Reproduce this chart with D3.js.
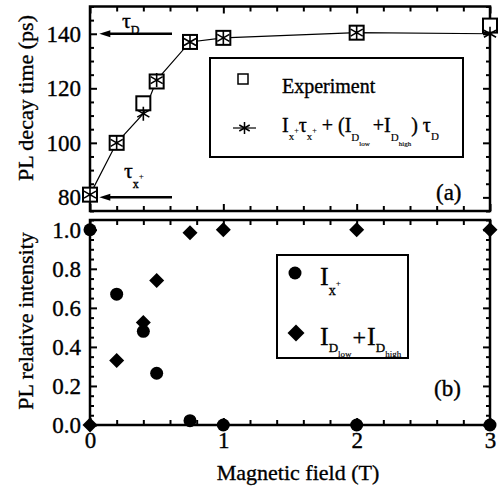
<!DOCTYPE html>
<html><head><meta charset="utf-8">
<script src="https://cdn.jsdelivr.net/npm/d3@7"></script>
<style>
html,body{margin:0;padding:0;background:#fff;}
svg{display:block;}
text{font-family:"Liberation Serif","Times New Roman",serif;fill:#000;stroke:#000;stroke-width:0.35px;}
</style></head>
<body>
<svg id="chart" width="498" height="493"></svg>
<script>
// ---- data ----
const fieldT = [0, 0.2, 0.4, 0.5, 0.75, 1, 2, 3];
const decayExp = [81, 100, 114.5, 122.5, 137, 138.5, 140.4, 143];
const decayModel = [81, 100, 110.7, 123, 137, 138.5, 140.4, 140];
const intensityX = [1.0, 0.67, 0.48, 0.265, 0.022, 0, 0, 0];
const intensityD = [0, 0.33, 0.525, 0.74, 0.985, 1.0, 1.0, 1.0];
const xTicks = [0, 1, 2, 3];
const yTicksA = [80, 100, 120, 140];
const yTicksB = [0.0, 0.2, 0.4, 0.6, 0.8, 1.0];
const tauLevels = [140, 80];

const svg = d3.select("#chart");
const x = d3.scaleLinear([0, 3], [90, 490]);
const yA = d3.scaleLinear([75, 150], [211, 6.5]);
const yB = d3.scaleLinear([0, 1.05], [425, 220]);

const xMinor = d3.range(0, 3.0001, 0.2).filter(v => Math.abs(v - Math.round(v)) > 1e-6);
const yMinorA = d3.range(75, 150.001, 5).filter(v => v % 20 !== 0);
const yMinorB = d3.range(0, 1.05001, 0.05).filter(v => Math.abs(v * 5 - Math.round(v * 5)) > 1e-6);

function styleAxis(g) {
  g.select(".domain").remove();
  g.selectAll(".tick line").attr("stroke", "#000").attr("stroke-width", 2);
  g.selectAll(".tick text").attr("font-size", 23).attr("font-family", "Liberation Serif, serif").attr("fill", "#000");
}
function axes(y, yTicks, yMinor, top, bottom, showX, fmt) {
  svg.append("g").attr("transform", `translate(${x.range()[0]},0)`)
    .call(d3.axisLeft(y).tickValues(yTicks).tickSize(-7).tickPadding(9).tickFormat(fmt)).call(styleAxis);
  svg.append("g").attr("transform", `translate(${x.range()[0]},0)`)
    .call(d3.axisLeft(y).tickValues(yMinor).tickSize(-4).tickFormat("")).call(styleAxis);
  svg.append("g").attr("transform", `translate(${x.range()[1]},0)`)
    .call(d3.axisRight(y).tickValues(yTicks).tickSize(-7).tickFormat("")).call(styleAxis);
  svg.append("g").attr("transform", `translate(${x.range()[1]},0)`)
    .call(d3.axisRight(y).tickValues(yMinor).tickSize(-4).tickFormat("")).call(styleAxis);
  svg.append("g").attr("transform", `translate(0,${top})`)
    .call(d3.axisTop(x).tickValues(xTicks).tickSize(-7).tickFormat("")).call(styleAxis);
  svg.append("g").attr("transform", `translate(0,${top})`)
    .call(d3.axisTop(x).tickValues(xMinor).tickSize(-5).tickFormat("")).call(styleAxis);
  svg.append("g").attr("transform", `translate(0,${bottom})`)
    .call(d3.axisBottom(x).tickValues(xTicks).tickSize(-7).tickPadding(7)
      .tickFormat(showX ? d3.format("d") : "")).call(styleAxis);
  svg.append("g").attr("transform", `translate(0,${bottom})`)
    .call(d3.axisBottom(x).tickValues(xMinor).tickSize(-5).tickFormat("")).call(styleAxis);
  svg.append("rect").attr("x", x.range()[0]).attr("y", top)
    .attr("width", x.range()[1] - x.range()[0]).attr("height", bottom - top)
    .attr("fill", "none").attr("stroke", "#000").attr("stroke-width", 2.5);
}
axes(yA, yTicksA, yMinorA, yA.range()[1], yA.range()[0], false, d3.format("d"));
axes(yB, yTicksB, yMinorB, yB.range()[1], yB.range()[0], true, d3.format(".1f"));

function rich(parent, x0, base, segs, anchor) {
  const t = parent.append("text").attr("x", x0).attr("y", base);
  if (anchor) t.attr("text-anchor", anchor);
  segs.forEach(s => {
    const ts = t.append("tspan").attr("y", base + (s.o || 0)).attr("font-size", s.s).text(s.t);
    if (s.dx) ts.attr("dx", s.dx);
    if (s.s < 12) ts.style("stroke-width", "0.15px");
  });
  return t;
}

function starPath(r) {
  const a = Math.PI / 6;
  const c = Math.cos(a) * r, s = Math.sin(a) * r;
  return `M0,${-r}L0,${r}M${-c},${-s}L${c},${s}M${-c},${s}L${c},${-s}`;
}
function diamondPath(r) { return `M0,${-r}L${r},0L0,${r}L${-r},0Z`; }

// ---- panel (a) ----
const ptsA = fieldT.map((f, i) => ({f, e: decayExp[i], m: decayModel[i]}));
svg.append("path").datum(ptsA)
  .attr("d", d3.line().x(d => x(d.f)).y(d => yA(d.m)))
  .attr("fill", "none").attr("stroke", "#000").attr("stroke-width", 1.2);
svg.append("g").selectAll("rect").data(ptsA).join("rect")
  .attr("x", d => x(d.f) - 7).attr("y", d => yA(d.e) - 7)
  .attr("width", 14).attr("height", 14)
  .attr("fill", "#fff").attr("stroke", "#000").attr("stroke-width", 2);
svg.append("g").selectAll("path").data(ptsA).join("path")
  .attr("transform", d => `translate(${x(d.f)},${yA(d.m)})`)
  .attr("d", starPath(7)).attr("stroke", "#000").attr("stroke-width", 1.6).attr("fill", "none");

tauLevels.forEach(v => {
  const yy = yA(v), tip = x(0.07), tail = x(0.615);
  svg.append("line").attr("x1", tip + 8).attr("x2", tail).attr("y1", yy).attr("y2", yy)
    .attr("stroke", "#000").attr("stroke-width", 2.5);
  svg.append("path").attr("d", `M${tip},${yy}L${tip + 11},${yy - 3.5}L${tip + 11},${yy + 3.5}Z`)
    .attr("fill", "#000");
});
rich(svg, 122, yA(140) - 6, [{t: "τ", s: 22}, {t: "D", s: 12, o: 6}]);
rich(svg, 124, yA(80) - 19, [{t: "τ", s: 22}, {t: "x", s: 12, o: 10}, {t: "+", s: 9, o: 1}]);

// legend (a)
svg.append("rect").attr("x", 210).attr("y", 58).attr("width", 253).attr("height", 99)
  .attr("fill", "#fff").attr("stroke", "#000").attr("stroke-width", 2);
svg.append("rect").attr("x", 238).attr("y", 74).attr("width", 10).attr("height", 10)
  .attr("fill", "#fff").attr("stroke", "#000").attr("stroke-width", 1.5);
svg.append("text").attr("x", 282).attr("y", 93).attr("font-size", 20).text("Experiment");
svg.append("line").attr("x1", 233).attr("x2", 256).attr("y1", 128).attr("y2", 128)
  .attr("stroke", "#000").attr("stroke-width", 1.2);
svg.append("path").attr("transform", "translate(244.5,128)").attr("d", starPath(6))
  .attr("stroke", "#000").attr("stroke-width", 1.5).attr("fill", "none");
rich(svg, 282, 132, [
  {t: "I", s: 20}, {t: "x", s: 11, o: 8}, {t: "+", s: 8, o: 1},
  {t: "τ", s: 20}, {t: "x", s: 11, o: 8}, {t: "+", s: 8, o: 1},
  {t: " + (I", s: 20}, {t: "D", s: 11, o: 9}, {t: "low", s: 7, o: 14},
  {t: "+I", s: 20, dx: 3}, {t: "D", s: 11, o: 9}, {t: "high", s: 7, o: 14},
  {t: ") τ", s: 20}, {t: "D", s: 11, o: 8}
]);
svg.append("text").attr("x", 436).attr("y", 200).attr("font-size", 23).text("(a)");

// ---- panel (b) ----
const ptsB = fieldT.map((f, i) => ({f, ix: intensityX[i], id: intensityD[i]}));
svg.append("g").selectAll("circle").data(ptsB).join("circle")
  .attr("cx", d => x(d.f)).attr("cy", d => yB(d.ix)).attr("r", 6.5).attr("fill", "#000");
svg.append("g").selectAll("path").data(ptsB).join("path")
  .attr("transform", d => `translate(${x(d.f)},${yB(d.id)})`)
  .attr("d", diamondPath(7.5)).attr("fill", "#000");

// legend (b)
svg.append("rect").attr("x", 277).attr("y", 255).attr("width", 131).attr("height", 103)
  .attr("fill", "#fff").attr("stroke", "#000").attr("stroke-width", 2);
svg.append("circle").attr("cx", 295).attr("cy", 273).attr("r", 6.5).attr("fill", "#000");
svg.append("path").attr("transform", "translate(296,333)").attr("d", diamondPath(8.5)).attr("fill", "#000");
rich(svg, 320, 285, [{t: "I", s: 26}, {t: "x", s: 14, o: 10}, {t: "+", s: 9, o: 1}]);
rich(svg, 320, 345, [
  {t: "I", s: 26}, {t: "D", s: 13, o: 7}, {t: "low", s: 9, o: 12},
  {t: "+", s: 24, dx: 1}, {t: "I", s: 26, dx: 1}, {t: "D", s: 13, o: 7}, {t: "high", s: 9, o: 12}
]);
svg.append("text").attr("x", 434).attr("y", 396).attr("font-size", 23).text("(b)");

// axis titles
svg.append("text").attr("transform", "translate(33,98) rotate(-90)").attr("text-anchor", "middle")
  .attr("font-size", 22).text("PL decay time (ps)");
svg.append("text").attr("transform", "translate(33,321) rotate(-90)").attr("text-anchor", "middle")
  .attr("font-size", 22).text("PL relative intensity");
svg.append("text").attr("x", 298).attr("y", 480).attr("text-anchor", "middle")
  .attr("font-size", 22).text("Magnetic field (T)");
</script>
</body></html>
